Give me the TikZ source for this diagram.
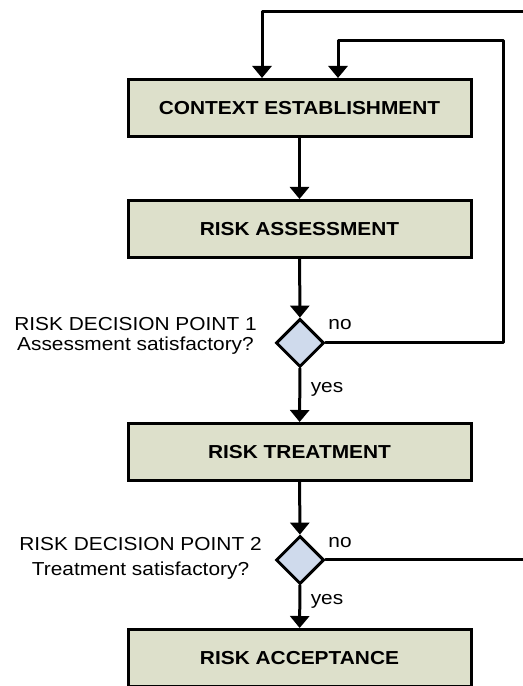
\documentclass[tikz,border=0pt]{standalone}
\usepackage{fontspec}
\setmainfont{Liberation Sans}[FakeStretch=1.11]
\usepackage{tikz}
\usetikzlibrary{arrows.meta}
\usetikzlibrary{shapes.geometric}
\definecolor{stagefill}{RGB}{221,224,203}
\definecolor{decfill}{RGB}{207,218,236}

\begin{document}
\begin{tikzpicture}[line cap=round,line join=round,>={Triangle[width=9.5pt,length=6pt]},x=0.5pt,y=0.5pt, line width=1.5pt,
    stage/.style={rectangle, draw, fill=stagefill, line join=miter, minimum width=171.5pt, minimum height=28.5pt, font=\fontsize{9.4}{11}\selectfont\bfseries},
    dec/.style={diamond, draw, fill=decfill, line join=miter, minimum width=24pt, minimum height=24pt, inner sep=0pt},
    lbl/.style={font=\fontsize{9.4}{10}\selectfont}]
                        \useasboundingbox (0,0) rectangle (523,686);
                        \clip (0,0) rectangle (523,686);

                        % process stages
                        \node[stage] (ctx) at (299.5,578) {CONTEXT ESTABLISHMENT};
                        \node[stage] (ass) at (299.5,457) {RISK ASSESSMENT};
                        \node[stage] (trt) at (299.5,234) {RISK TREATMENT};
                        \node[stage] (acc) at (299.5,28) {RISK ACCEPTANCE};

                        % decision points
                        \node[dec] (d1) at (300,343) {};
                        \node[dec] (d2) at (300,126) {};
                        \node[lbl, align=center] (q1) at (135.5,350) {RISK DECISION POINT 1\\Assessment satisfactory?};
                        \node[lbl, align=center] (q2) at (140.5,128) {RISK DECISION POINT 2\\[2.5pt]Treatment satisfactory?};

                        \node[lbl] (no1) at (340,361) {no};
                        \node[lbl] (yes1) at (327,296.5) {yes};
                        \node[lbl] (no2) at (340,143.5) {no};
                        \node[lbl] (yes2) at (327,85) {yes};

                        % main flow
                        \draw[->] (ctx) -- (ass);
                        \draw[->] (ass) -- (d1);
                        \draw[->] (d1) -- (trt);
                        \draw[->] (trt) -- (d2);
                        \draw[->] (d2) -- (acc);

                        % loops back
                        \coordinate (r1) at (503,645);
                        \coordinate (e1) at (338,0);
                        \coordinate (r2) at (560,674);
                        \coordinate (e2) at (262,0);
                        \draw[->] (d1.east) -| (r1) -| (ctx.north -| e1);
                        \draw[->] (d2.east) -| (r2) -| (ctx.north -| e2);
                    \end{tikzpicture}
\end{document}
